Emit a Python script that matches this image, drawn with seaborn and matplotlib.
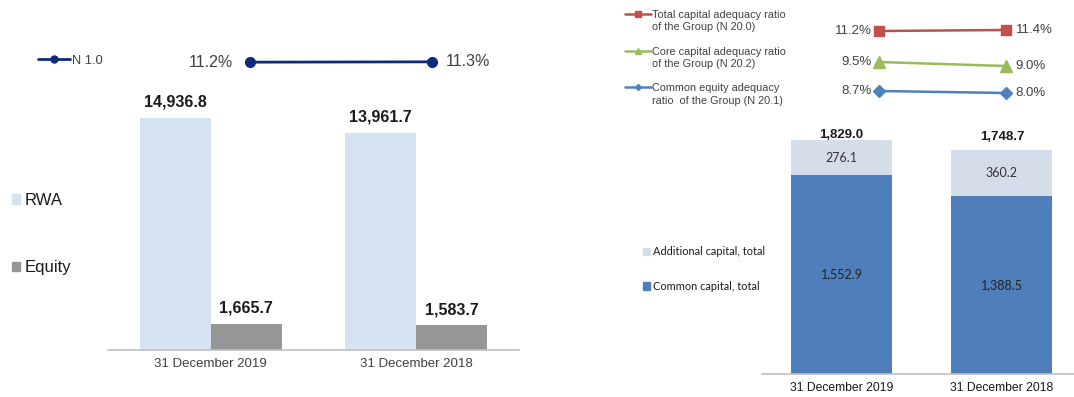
import matplotlib
matplotlib.use("Agg")
import matplotlib.pyplot as plt
import seaborn as sns
import pandas as pd
import numpy as np
from matplotlib.lines import Line2D
from matplotlib.patches import Patch

# ---------------- data ----------------
categories = ["31 December 2019", "31 December 2018"]
rwa = [14936.8, 13961.7]
equity = [1665.7, 1583.7]
n10 = [11.2, 11.3]

common_capital = [1552.9, 1388.5]
additional_capital = [276.1, 360.2]
n200 = [11.2, 11.4]   # Total capital adequacy ratio
n202 = [9.5, 9.0]     # Core capital adequacy ratio
n201 = [8.7, 8.0]     # Common equity adequacy ratio

ratio_legend_first = ["Total capital adequacy ratio",
                      "Core capital adequacy ratio",
                      "Common equity adequacy"]
ratio_legend_second = ["of the Group (N 20.0)",
                       "of the Group (N 20.2)",
                       "ratio  of the Group (N 20.1)"]

# ---------------- style ----------------
sns.set_theme(style="white")
plt.rcParams["font.family"] = ["Liberation Sans", "DejaVu Sans"]

W, H = 1074, 397
fig = plt.figure(figsize=(W / 100, H / 100), dpi=100)


def box(l, t, r, b):
    return [l / W, 1 - b / H, (r - l) / W, (b - t) / H]


TXT = "#404040"
DARK = "#1a1a1a"

# ---------------- left: RWA / Equity ----------------
axl = fig.add_axes(box(108, 100, 519, 350))
df_left = pd.DataFrame({
    "date": categories * 2,
    "value": rwa + equity,
    "series": ["RWA"] * 2 + ["Equity"] * 2,
})
pal_left = {"RWA": "#D5E2F2", "Equity": "#969696"}
sns.barplot(data=df_left, x="date", y="value", hue="series", palette=pal_left,
            width=0.69, gap=0, saturation=1, linewidth=0, legend=False, ax=axl)
axl.set_xlim(-0.5, 1.5)
axl.set_ylim(0, 16098)
for c in axl.containers:
    axl.bar_label(c, labels=[f"{v:,.1f}" for v in c.datavalues], padding=6,
                  fontsize=11.5, fontweight="bold", color=DARK)
for s in ["top", "left", "right"]:
    axl.spines[s].set_visible(False)
axl.spines["bottom"].set_color("#BFBFBF")
axl.spines["bottom"].set_linewidth(1.2)
axl.set_yticks([])
axl.set_xlabel("")
axl.set_ylabel("")
axl.tick_params(axis="x", length=0, pad=6, labelsize=9.5, labelcolor=TXT)

# N 1.0 line
axn = fig.add_axes(box(250, 42, 432, 82))
xl = np.arange(len(categories))
axn.plot(xl, n10, color="#0D2B7A", lw=2, marker="o", ms=7, clip_on=False)
axn.set_xlim(0, 1)
m = np.mean(n10)
axn.set_ylim(m - 6, m + 6)
axn.axis("off")
axn.annotate(f"{n10[0]:.1f}%", (xl[0], n10[0]), xytext=(-12, 0), textcoords="offset points",
             ha="right", va="center", fontsize=11.5, color=TXT)
axn.annotate(f"{n10[1]:.1f}%", (xl[1], n10[1]), xytext=(10, 0), textcoords="offset points",
             ha="left", va="center", fontsize=11.5, color=TXT)

fig.legend(handles=[Line2D([], [], color="#0D2B7A", lw=2, marker="o", ms=5)], labels=["N 1.0"],
           loc="center left", bbox_to_anchor=(38 / W, 1 - 61 / H), frameon=False,
           fontsize=9.3, handlelength=2.5, handletextpad=0.1, borderpad=0, borderaxespad=0,
           labelcolor=TXT)
fig.legend(handles=[Patch(color=pal_left["RWA"]), Patch(color=pal_left["Equity"])],
           labels=["RWA", "Equity"], loc="center left",
           bbox_to_anchor=(12 / W, 1 - 234 / H), frameon=False, fontsize=12,
           handlelength=0.5, handleheight=0.5, handletextpad=0.25, labelspacing=3.15,
           borderpad=0, borderaxespad=0, labelcolor=DARK)

# ---------------- right: capital stacked bars ----------------
add_col = "#D5DCEA"
com_col = "#4F7FBA"
total_capital = [c + a for c, a in zip(common_capital, additional_capital)]

axr = fig.add_axes(box(761.5, 130, 1074, 374))
sns.barplot(x=categories, y=total_capital, color=add_col, width=0.63, saturation=1,
            linewidth=0, ax=axr)
sns.barplot(x=categories, y=common_capital, color=com_col, width=0.63, saturation=1,
            linewidth=0, ax=axr)
axr.set_xlim(-0.5, 1.45)
axr.set_ylim(0, 244 / 0.128)
total_label_pad = [-1, 5.5]
for i, bar in enumerate(axr.containers[0]):
    axr.annotate(f"{total_capital[i]:,.1f}", (i, total_capital[i]),
                 xytext=(0, total_label_pad[i]), textcoords="offset points",
                 ha="center", va="bottom", fontsize=9.5, fontweight="bold", color=DARK,
                 annotation_clip=False)
for i in range(len(categories)):
    axr.text(i, common_capital[i] + additional_capital[i] / 2, f"{additional_capital[i]:,.1f}",
             ha="center", va="center", fontsize=9, color="#333333", family="Lato")
    axr.text(i, common_capital[i] / 2, f"{common_capital[i]:,.1f}",
             ha="center", va="center", fontsize=9, color="#222222", family="Lato")
for s in ["top", "left", "right"]:
    axr.spines[s].set_visible(False)
axr.spines["bottom"].set_color("#BFBFBF")
axr.spines["bottom"].set_linewidth(1.2)
axr.set_yticks([])
axr.tick_params(axis="x", length=0, pad=6, labelsize=8.7, labelcolor=DARK)

fig.legend(handles=[Patch(color=add_col), Patch(color=com_col)],
           labels=["Additional capital, total", "Common capital, total"],
           loc="center left", bbox_to_anchor=(643 / W, 1 - 269 / H), frameon=False,
           prop={"family": "Lato", "size": 7.9}, handlelength=0.65, handleheight=0.65,
           handletextpad=0.3, labelspacing=2.15, borderpad=0, borderaxespad=0,
           labelcolor=DARK)

# ratio lines
ratio_specs = [
    (n200, "#C0504D", "s", 7, 30.5, 8),
    (n202, "#9BBB59", "^", 8, 64, 5),
    (n201, "#4F81BD", "D", 6, 92, 14),
]
xr = np.arange(len(categories))
for vals, col, mk, ms, yc, rng in ratio_specs:
    a = fig.add_axes(box(879, yc - 20, 1006, yc + 20))
    a.plot(xr, vals, color=col, lw=1.8, marker=mk, ms=ms, clip_on=False)
    a.set_xlim(0, 1)
    mm = np.mean(vals)
    a.set_ylim(mm - rng / 2, mm + rng / 2)
    a.axis("off")
    a.annotate(f"{vals[0]:.1f}%", (xr[0], vals[0]), xytext=(-5, 0), textcoords="offset points",
               ha="right", va="center", fontsize=9.5, color=TXT)
    a.annotate(f"{vals[1]:.1f}%", (xr[1], vals[1]), xytext=(7, 0), textcoords="offset points",
               ha="left", va="center", fontsize=9.5, color=TXT)

leg = fig.legend(handles=[Line2D([], [], color="#C0504D", lw=1.8, marker="s", ms=4),
                          Line2D([], [], color="#9BBB59", lw=1.8, marker="^", ms=4),
                          Line2D([], [], color="#4F81BD", lw=1.8, marker="D", ms=3)],
                 labels=ratio_legend_first,
                 loc="upper left", bbox_to_anchor=(625 / W, 1 - 10 / H), frameon=False,
                 fontsize=7.8, handlelength=2.4, handletextpad=0.1, labelspacing=2.45,
                 borderpad=0, borderaxespad=0, labelcolor=TXT)
fig.canvas.draw()
renderer = fig.canvas.get_renderer()
for t, second in zip(leg.get_texts(), ratio_legend_second):
    bb = t.get_window_extent(renderer)
    fig.text(bb.x0 / W, (bb.y0 + bb.y1) / 2 / H - 12.5 / H, second,
             ha="left", va="center", fontsize=7.8, color=TXT)

fig.savefig("out.png", dpi=100, facecolor="white")
